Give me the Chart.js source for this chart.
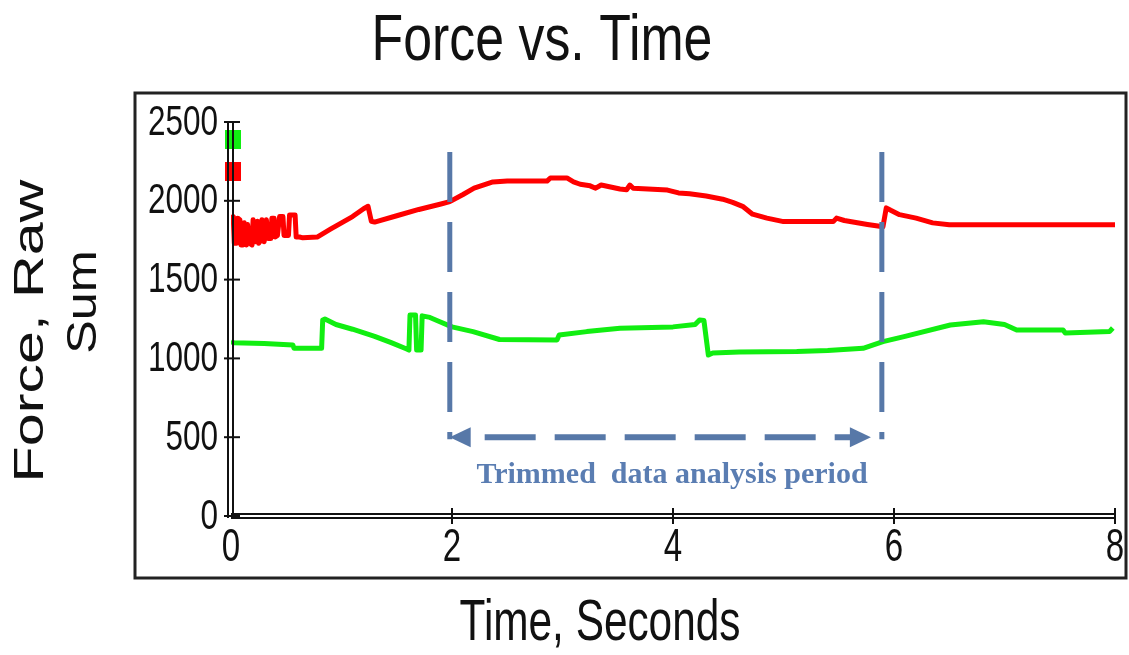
<!DOCTYPE html>
<html>
<head>
<meta charset="utf-8">
<script src="https://cdn.jsdelivr.net/npm/chart.js@4.4.1/dist/chart.umd.min.js"></script>
<style>
  html, body { margin: 0; padding: 0; background: #fff; overflow: hidden; }
  canvas { display: block; }
</style>
</head>
<body>
<canvas id="forceChart" width="1129" height="655"></canvas>
<script>
// sum of the raw force cells, red and green channels, sampled over 8 s
const redTime = [
  0.00, 0.02, 0.03, 0.05, 0.06, 0.08, 0.09, 0.11, 0.12, 0.14, 0.15, 0.17, 0.19, 0.20,
  0.22, 0.24, 0.25, 0.27, 0.28, 0.30, 0.32, 0.34, 0.36, 0.37, 0.39, 0.40, 0.42, 0.44,
  0.47, 0.48, 0.52, 0.53, 0.58, 0.59, 0.62, 0.65, 0.78, 0.90, 1.00, 1.10, 1.20, 1.24,
  1.27, 1.30, 1.50, 1.70, 1.90, 1.98, 2.10, 2.20, 2.37, 2.50, 2.86, 2.89, 3.04, 3.10,
  3.16, 3.25, 3.30, 3.35, 3.52, 3.58, 3.61, 3.64, 3.95, 4.05, 4.15, 4.30, 4.45, 4.54,
  4.63, 4.72, 4.85, 5.00, 5.45, 5.48, 5.55, 5.76, 5.87, 5.90, 5.93, 5.97, 6.05, 6.20,
  6.35, 6.50, 8.00
]
const redForce = [
  1880, 1900, 1730, 1730, 1890, 1880, 1720, 1720, 1860, 1720, 1850, 1730, 1720, 1880,
  1740, 1870, 1730, 1750, 1880, 1740, 1880, 1760, 1760, 1890, 1890, 1770, 1780, 1900,
  1900, 1780, 1780, 1910, 1910, 1770, 1770, 1765, 1770, 1820, 1860, 1900, 1950, 1965,
  1870, 1865, 1905, 1945, 1980, 1995, 2040, 2080, 2120, 2125, 2125, 2145, 2145, 2120,
  2105, 2095, 2080, 2100, 2075, 2070, 2100, 2080, 2068, 2050, 2045, 2030, 2010, 1990,
  1965, 1915, 1890, 1868, 1868, 1890, 1875, 1850, 1838, 1835, 1955, 1940, 1912, 1890,
  1860, 1848, 1848
]
const greenTime = [
  0.00, 0.02, 0.30, 0.56, 0.57, 0.82, 0.83, 0.85, 0.95, 1.10, 1.30, 1.45, 1.59, 1.61,
  1.62, 1.67, 1.68, 1.72, 1.73, 1.80, 1.89, 2.00, 2.19, 2.43, 2.95, 2.97, 3.22, 3.52,
  4.00, 4.20, 4.24, 4.28, 4.32, 4.36, 4.60, 5.12, 5.40, 5.72, 5.90, 6.10, 6.51, 6.81,
  7.00, 7.11, 7.53, 7.55, 7.95, 7.98
]
const greenForce = [
  1110, 1100, 1095, 1085, 1064, 1064, 1244, 1250, 1215, 1185, 1140, 1100, 1060, 1053,
  1275, 1275, 1053, 1053, 1270, 1260, 1233, 1200, 1170, 1120, 1117, 1148, 1170, 1191,
  1200, 1215, 1244, 1240, 1021, 1034, 1040, 1043, 1050, 1064, 1106, 1140, 1212, 1233,
  1215, 1180, 1180, 1161, 1170, 1193
]
// first samples, shown as square markers
const startTime = 0.02
const redStart = 2185
const greenStart = 2389

const xTicks = [0, 2, 4, 6, 8]
const yTicks = [0, 500, 1000, 1500, 2000, 2500]
const xTickLabels = ['0', '2', '4', '6', '8']
const yTickLabels = ['0', '500', '1000', '1500', '2000', '2500']

// trimmed window and the arrow between its edges
const trimStart = 1.98
const trimEnd = 5.89
const trimTop = 2310
const arrowLevel = 500
const arrowFrom = 2.16
const arrowTo = 5.61

const SANS = '"Liberation Sans", Arial, sans-serif'
const INK = '#111'
const TRIM_BLUE = '#5778a8'

const toPoints = (xs, ys) => xs.map((t, i) => ({ x: t, y: ys[i] }))

function squareMarker(color) {
  const c = document.createElement('canvas')
  c.width = 16
  c.height = 19
  const g = c.getContext('2d')
  g.fillStyle = color
  g.fillRect(0, 0, 16, 19)
  return c
}

// text squeezed (or stretched) along its baseline by sx
function label(ctx, text, px, py, size, sx, opts = {}) {
  ctx.save()
  ctx.translate(px, py)
  if (opts.rotate) ctx.rotate(opts.rotate)
  ctx.scale(sx, 1)
  ctx.font = (opts.weight || 'normal') + ' ' + size + 'px ' + (opts.family || SANS)
  ctx.textAlign = opts.align || 'center'
  ctx.textBaseline = 'middle'
  ctx.fillStyle = opts.color || INK
  ctx.fillText(text, 0, 0)
  ctx.restore()
}

function line(ctx, x1, y1, x2, y2) {
  ctx.beginPath()
  ctx.moveTo(x1, y1)
  ctx.lineTo(x2, y2)
  ctx.stroke()
}

const frame = {
  id: 'frame',
  beforeDraw(chart) {
    const { ctx } = chart
    ctx.save()
    ctx.fillStyle = '#fff'
    ctx.fillRect(0, 0, chart.width, chart.height)
    ctx.strokeStyle = '#222'
    ctx.lineWidth = 3
    ctx.strokeRect(135, 93, 991, 485)
    ctx.restore()

    label(ctx, 'Force vs. Time', 542, 42, 64, 0.81)
    label(ctx, 'Time, Seconds', 600, 624, 58, 0.73)
    label(ctx, 'Force, Raw', 31, 331, 42, 1.41, { rotate: -Math.PI / 2 })
    label(ctx, 'Sum', 84, 302, 42, 1.2, { rotate: -Math.PI / 2 })
  }
}

const axes = {
  id: 'axes',
  afterDatasetsDraw(chart) {
    const { ctx } = chart
    const { x, y } = chart.scales
    const x0 = x.getPixelForValue(0)
    const xEnd = x.getPixelForValue(8)
    const y0 = y.getPixelForValue(0)
    const yTop = y.getPixelForValue(2500)

    ctx.save()
    ctx.strokeStyle = INK
    ctx.lineWidth = 2
    // doubled axis lines
    line(ctx, x0 - 3, yTop, x0 - 3, y0 + 2)
    line(ctx, x0 + 2, yTop, x0 + 2, y0 + 2)
    line(ctx, x0, y0 - 2, xEnd, y0 - 2)
    line(ctx, x0, y0 + 2, xEnd, y0 + 2)

    yTicks.forEach((v, i) => {
      const py = y.getPixelForValue(v)
      line(ctx, x0 - 7, py, x0 + 9, py)
      label(ctx, yTickLabels[i], 218, py + 1, 42, 0.75, { align: 'right' })
    })
    xTicks.forEach((v, i) => {
      const px = x.getPixelForValue(v)
      if (v > 0) line(ctx, px, y0 - 8, px, y0 + 8)
      label(ctx, xTickLabels[i], px, 548, 46, 0.72)
    })
    ctx.restore()

    // trimmed period markers
    ctx.save()
    ctx.strokeStyle = TRIM_BLUE
    ctx.fillStyle = TRIM_BLUE
    ctx.lineWidth = 5
    ctx.setLineDash([50, 20])
    const yA = y.getPixelForValue(trimTop)
    const yB = y.getPixelForValue(arrowLevel) + 2
    ;[trimStart, trimEnd].forEach(t => {
      const px = x.getPixelForValue(t)
      line(ctx, px, yA, px, yB)
    })

    const ay = y.getPixelForValue(arrowLevel)
    const aL = x.getPixelForValue(arrowFrom) - 20
    const aR = x.getPixelForValue(arrowTo) + 20
    ctx.lineWidth = 6
    ctx.setLineDash([51, 19])
    line(ctx, aL + 35, ay, aR - 19, ay)
    ctx.setLineDash([])
    ctx.beginPath()
    ctx.moveTo(aL, ay)
    ctx.lineTo(aL + 21, ay - 10)
    ctx.lineTo(aL + 21, ay + 10)
    ctx.closePath()
    ctx.fill()
    ctx.beginPath()
    ctx.moveTo(aR, ay)
    ctx.lineTo(aR - 21, ay - 10)
    ctx.lineTo(aR - 21, ay + 10)
    ctx.closePath()
    ctx.fill()
    ctx.restore()

    label(ctx, 'Trimmed  data analysis period', 672, 475, 30, 1, {
      weight: 'bold',
      family: '"Liberation Serif", "Times New Roman", serif',
      color: '#5a7db2'
    })
  }
}

const ctx = document.getElementById('forceChart').getContext('2d')
const chart = new Chart(ctx, {
  type: 'line',
  data: {
    datasets: [
      {
        label: 'Red',
        data: toPoints(redTime, redForce),
        borderColor: '#ff0000',
        borderWidth: 5,
        borderJoinStyle: 'round',
        pointRadius: 0
      },
      {
        label: 'Green',
        data: toPoints(greenTime, greenForce),
        borderColor: '#11ee11',
        borderWidth: 5,
        borderJoinStyle: 'round',
        pointRadius: 0
      },
      {
        label: 'Red start',
        data: [{ x: startTime, y: redStart }],
        showLine: false,
        clip: false,
        pointStyle: squareMarker('#ff0000'),
        pointRadius: 9
      },
      {
        label: 'Green start',
        data: [{ x: startTime, y: greenStart }],
        showLine: false,
        clip: false,
        pointStyle: squareMarker('#11ee11'),
        pointRadius: 9
      }
    ]
  },
  options: {
    responsive: false,
    animation: false,
    layout: { padding: { left: 231, right: 14, top: 122, bottom: 139 } },
    scales: {
      x: { type: 'linear', min: 0, max: 8, display: false },
      y: { type: 'linear', min: 0, max: 2500, display: false }
    },
    elements: { line: { tension: 0 } },
    plugins: {
      legend: { display: false },
      title: { display: false },
      tooltip: { enabled: false }
    }
  },
  plugins: [frame, axes]
})
</script>
</body>
</html>
